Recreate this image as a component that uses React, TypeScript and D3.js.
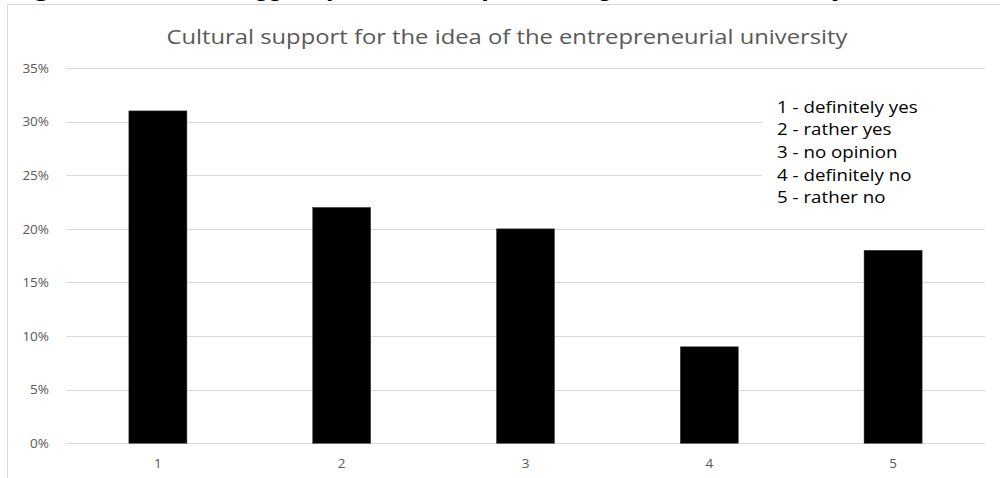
import React from "react";
import * as d3 from "d3";

const categories = ["1", "2", "3", "4", "5"];
const values = [0.31, 0.22, 0.20, 0.09, 0.18];
const yTicks = [0, 0.05, 0.10, 0.15, 0.20, 0.25, 0.30, 0.35];
const legendLines = ["1 - definitely yes", "2 - rather yes", "3 - no opinion", "4 - definitely no", "5 - rather no"];
const chartTitle = "Cultural support for the idea of the entrepreneurial university";
const caption = "Figure 3. Cultural support for the idea of the entrepreneurial university";

export default function App() {
  const W = 1000, H = 478;
  const left = 66, right = 985, top = 68, bottom = 443.3;
  const x = d3.scaleBand<string>().domain(categories).range([left, right]).paddingInner(0.684).paddingOuter(0.342);
  const y = d3.scaleLinear().domain([0, 0.35]).range([bottom, top]);
  const fmt = d3.format(".0%");
  const font = "'Open Sans', sans-serif";
  return (
    <svg width={W} height={H} style={{ position: "absolute", left: 0, top: 0, background: "#fff" }}>
      <text x={10} y={-3.5} fontFamily="'Liberation Serif', serif" fontStyle="italic" fontWeight="bold" fontSize={19} textLength={838} lengthAdjust="spacingAndGlyphs" fill="#000">{caption}</text>
      <line x1={7.5} x2={W} y1={4.5} y2={4.5} stroke="#d9d9d9" strokeWidth={1} />
      <line x1={7.5} x2={7.5} y1={4.5} y2={H} stroke="#d9d9d9" strokeWidth={1} />
      <text x={507} y={44} textAnchor="middle" fontFamily={font} fontSize={20} fill="#595959" textLength={681} lengthAdjust="spacingAndGlyphs">{chartTitle}</text>
      {yTicks.map((t) => (
        <g key={t}>
          <line x1={left} x2={right} y1={Math.round(y(t)) + 0.5} y2={Math.round(y(t)) + 0.5} stroke="#d9d9d9" strokeWidth={1} />
          <text x={49} y={y(t)} dy="0.35em" textAnchor="end" fontFamily={font} fontSize={13.5} fill="#595959">{fmt(t)}</text>
        </g>
      ))}
      <rect x={762} y={76} width={230} height={148} fill="#fff" />
      <g transform="translate(777,0) scale(1.17,1)">
        {legendLines.map((l, i) => (
          <text key={l} x={0} y={107 + i * 22.6} dy="0.36em" fontFamily={font} fontSize={16} fill="#000">{l}</text>
        ))}
      </g>
      {categories.map((c, i) => (
        <g key={c}>
          <rect x={x(c)} y={y(values[i])} width={x.bandwidth()} height={bottom - y(values[i])} fill="#000" stroke="#444" strokeWidth={0.5} />
          <text x={(x(c) as number) + x.bandwidth() / 2} y={463} dy="0.35em" textAnchor="middle" fontFamily={font} fontSize={13.5} fill="#595959">{c}</text>
        </g>
      ))}
    </svg>
  );
}
